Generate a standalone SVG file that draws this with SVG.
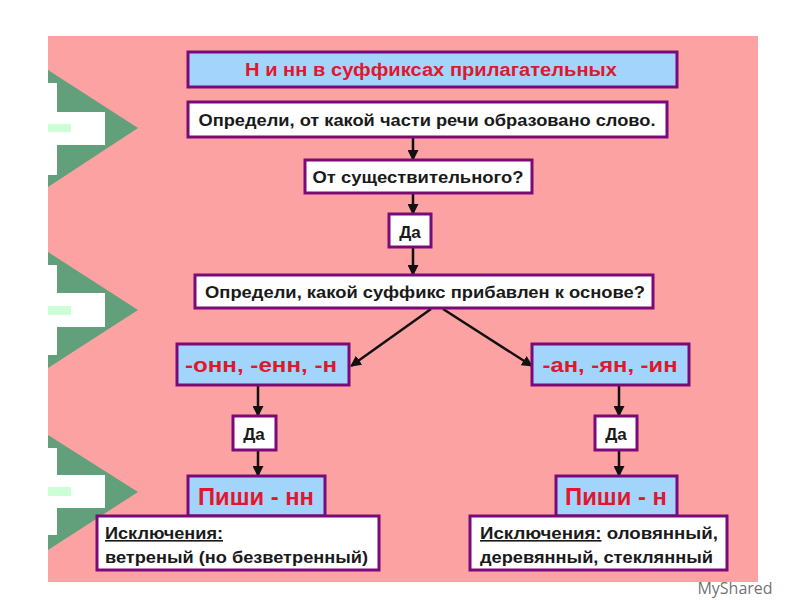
<svg xmlns="http://www.w3.org/2000/svg" width="800" height="600" viewBox="0 0 800 600">
<defs>
<style>
.box{stroke:#7a0a7a;stroke-width:3}
.blue{fill:#a3d4fb}
.white{fill:#ffffff}
.t{font-family:"Liberation Sans",Arial,sans-serif;font-weight:bold}
.blk{fill:#1a1a1a}
.red{fill:#e0182e}
.con{stroke:#111;stroke-width:2.5;fill:none}
.g{fill:#62a07c}
.w{fill:#ffffff}
.lg{fill:#ccffd6}
</style>
<marker id="ah" viewBox="0 0 10 10" refX="9" refY="5" markerWidth="4.4" markerHeight="4.4" orient="auto" markerUnits="strokeWidth">
<path d="M0,0 L10,5 L0,10 z" fill="#111"/>
</marker>
</defs>
<rect x="0" y="0" width="800" height="600" fill="#ffffff"/>
<rect x="48" y="36" width="710" height="546" fill="#fda2a2"/>

<g id="decor">
<polygon class="g" points="48,70 138,128 48,187"/>
<rect class="w" x="48" y="83" width="9" height="92"/>
<rect class="w" x="48" y="112" width="57" height="33"/>
<rect class="lg" x="48" y="124" width="23" height="8"/>

<polygon class="g" points="48,252 138,310 48,368"/>
<rect class="w" x="48" y="265" width="9" height="90"/>
<rect class="w" x="48" y="293" width="57" height="34"/>
<rect class="lg" x="48" y="306" width="23" height="9"/>

<polygon class="g" points="48,435 138,492 48,550"/>
<rect class="w" x="48" y="448" width="9" height="87"/>
<rect class="w" x="48" y="475" width="57" height="33"/>
<rect class="lg" x="48" y="487" width="23" height="9"/>
</g>

<g id="connectors">
<line class="con" x1="413" y1="138" x2="413" y2="160" marker-end="url(#ah)"/>
<line class="con" x1="413" y1="194" x2="413" y2="214" marker-end="url(#ah)"/>
<line class="con" x1="413" y1="248" x2="413" y2="275" marker-end="url(#ah)"/>
<line class="con" x1="431" y1="309" x2="351" y2="366" marker-end="url(#ah)"/>
<line class="con" x1="443" y1="309" x2="532" y2="366" marker-end="url(#ah)"/>
<line class="con" x1="258" y1="386" x2="258" y2="416" marker-end="url(#ah)"/>
<line class="con" x1="619" y1="386" x2="619" y2="416" marker-end="url(#ah)"/>
<line class="con" x1="258" y1="451" x2="258" y2="476" marker-end="url(#ah)"/>
<line class="con" x1="619" y1="451" x2="619" y2="476" marker-end="url(#ah)"/>
</g>

<g id="title">
<rect class="box blue" x="188" y="52" width="489" height="35"/>
<text class="t red" x="431" y="76" font-size="18" text-anchor="middle" textLength="372" lengthAdjust="spacingAndGlyphs">Н  и нн в суффиксах прилагательных</text>
</g>

<g id="step1">
<rect class="box white" x="188" y="102" width="479" height="35"/>
<text class="t blk" x="427" y="126" font-size="17" text-anchor="middle" textLength="457" lengthAdjust="spacingAndGlyphs">Определи, от какой части речи образовано слово.</text>
</g>

<g id="step2">
<rect class="box white" x="305" y="160" width="227" height="33"/>
<text class="t blk" x="418" y="183" font-size="17" text-anchor="middle" textLength="211" lengthAdjust="spacingAndGlyphs">От существительного?</text>
</g>

<g id="yes1">
<rect class="box white" x="389" y="214" width="42" height="33"/>
<text class="t blk" x="410" y="238" font-size="17" text-anchor="middle">Да</text>
</g>

<g id="step3">
<rect class="box white" x="195" y="275" width="458" height="33"/>
<text class="t blk" x="425" y="298" font-size="17" text-anchor="middle" textLength="440" lengthAdjust="spacingAndGlyphs">Определи, какой суффикс прибавлен к основе?</text>
</g>

<g id="suffix-left">
<rect class="box blue" x="177" y="344" width="172" height="41"/>
<text class="t red" x="261" y="372" font-size="21" text-anchor="middle" textLength="152" lengthAdjust="spacingAndGlyphs">-онн, -енн, -н</text>
</g>

<g id="suffix-right">
<rect class="box blue" x="532" y="344" width="157" height="41"/>
<text class="t red" x="610" y="372" font-size="21" text-anchor="middle" textLength="135" lengthAdjust="spacingAndGlyphs">-ан, -ян, -ин</text>
</g>

<g id="yes-left">
<rect class="box white" x="233" y="416" width="43" height="34"/>
<text class="t blk" x="254" y="440" font-size="17" text-anchor="middle">Да</text>
</g>

<g id="yes-right">
<rect class="box white" x="595" y="416" width="42" height="34"/>
<text class="t blk" x="616" y="440" font-size="17" text-anchor="middle">Да</text>
</g>

<g id="write-nn">
<rect class="box blue" x="188" y="476" width="137" height="40"/>
<text class="t red" x="256" y="505" font-size="23" text-anchor="middle" textLength="116" lengthAdjust="spacingAndGlyphs">Пиши - нн</text>
</g>

<g id="write-n">
<rect class="box blue" x="556" y="476" width="121" height="40"/>
<text class="t red" x="616" y="505" font-size="23" text-anchor="middle" textLength="102" lengthAdjust="spacingAndGlyphs">Пиши - н</text>
</g>

<g id="exc-left">
<rect class="box white" x="97" y="516" width="282" height="54"/>
<text class="t blk" x="105" y="539" font-size="16" textLength="118" lengthAdjust="spacingAndGlyphs" text-decoration="underline">Исключения:</text>
<text class="t blk" x="105" y="563" font-size="16" textLength="263" lengthAdjust="spacingAndGlyphs">ветреный (но безветренный)</text>
</g>

<g id="exc-right">
<rect class="box white" x="470" y="516" width="257" height="54"/>
<text class="t blk" x="480" y="539" font-size="16" textLength="238" lengthAdjust="spacingAndGlyphs"><tspan text-decoration="underline">Исключения:</tspan>  оловянный,</text>
<text class="t blk" x="480" y="563" font-size="16" textLength="233" lengthAdjust="spacingAndGlyphs">деревянный, стеклянный</text>
</g>

<text x="735" y="594" font-family="'Open Sans','DejaVu Sans',sans-serif" font-size="16" fill="#555555" fill-opacity="0.85" text-anchor="middle">MyShared</text>
</svg>
